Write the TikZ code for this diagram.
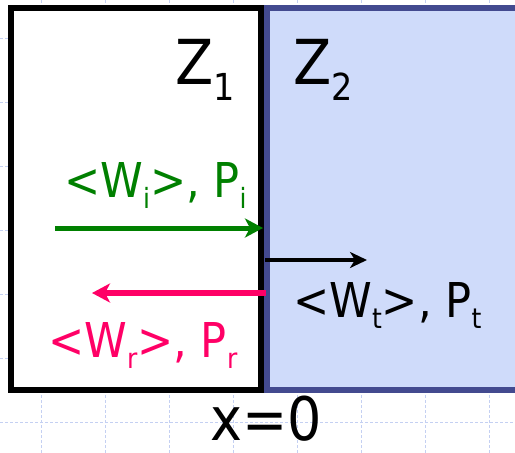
\documentclass[tikz,border=0pt]{standalone}
\usepackage{fontspec}
\setmainfont{DejaVu Sans Condensed}
\usetikzlibrary{arrows.meta}
\definecolor{gridc}{RGB}{196,208,242}
\definecolor{zfill}{RGB}{207,219,250}
\definecolor{zborder}{RGB}{67,74,143}
\definecolor{igreen}{RGB}{0,128,0}
\definecolor{rpink}{RGB}{255,0,102}
\newcommand{\sbx}[1]{\raisebox{-0.23em}{\scalebox{0.58}{#1}}}
\newcommand{\zsbx}[1]{\raisebox{-0.27em}{\scalebox{0.6}{#1}}}
\tikzset{
  gridline/.style={draw=gridc, line width=0.8pt, dash pattern=on 3pt off 2pt},
  mediumbox/.style={rectangle, line width=6pt, inner sep=0pt, outer sep=0pt},
  lbl/.style={anchor=base west, inner sep=0pt, font=\fontsize{48}{48}\selectfont},
  zlbl/.style={anchor=base west, inner sep=0pt, font=\fontsize{62}{62}\selectfont},
  wave/.style={line width=5pt, -{Stealth[length=18pt,width=19pt,inset=5pt]}}
}
\begin{document}
\begin{tikzpicture}[x=1pt,y=-1pt]
\useasboundingbox (0,0) rectangle (515,453);
\clip (0,0) rectangle (515,453);
\fill[white] (0,0) rectangle (515,453);
% background grid
\foreach \gx in {41,105,169,233,297,361,425,489} \draw[gridline] (\gx,0) -- (\gx,453);
\foreach \gy in {38,102,166,230,294,358,422} \draw[gridline] (0,\gy) -- (515,\gy);
% media
\node[mediumbox, draw=black, fill=white, minimum width=250pt, minimum height=382pt] (m1) at (136,199) {};
\node[mediumbox, draw=zborder, fill=zfill, minimum width=263pt, minimum height=382pt] (m2) at (398.5,199) {};
% labels
\node[zlbl] (z1) at (175,84) {Z\zsbx{1}};
\node[zlbl] (z2) at (293,84) {Z\zsbx{2}};
\node[lbl, text=igreen] (ti) at (64,197) {<W\sbx{i}>, P\sbx{i}};
\node[lbl, text=rpink] (tr) at (48,357) {<W\sbx{r}>, P\sbx{r}};
\node[lbl, text=black] (tt) at (293,317) {<W\sbx{t}>, P\sbx{t}};
\node[anchor=base west, inner sep=0pt, font=\fontsize{60}{60}\selectfont] (x0) at (210,440) {x=0};
% arrows
\coordinate (gi0) at (55,228);
\coordinate (gi1) at (263,228);
\coordinate (pr0) at (266,293);
\coordinate (pr1) at (92,293);
\coordinate (bt0) at (265,260);
\coordinate (bt1) at (367,260);
\draw[wave, igreen] (gi0) -- (gi1);
\draw[wave, rpink, line width=5.5pt] (pr0) -- (pr1);
\draw[black, line width=4pt, -{Stealth[length=17pt,width=16pt,inset=5pt]}] (bt0) -- (bt1);
\end{tikzpicture}
\end{document}
